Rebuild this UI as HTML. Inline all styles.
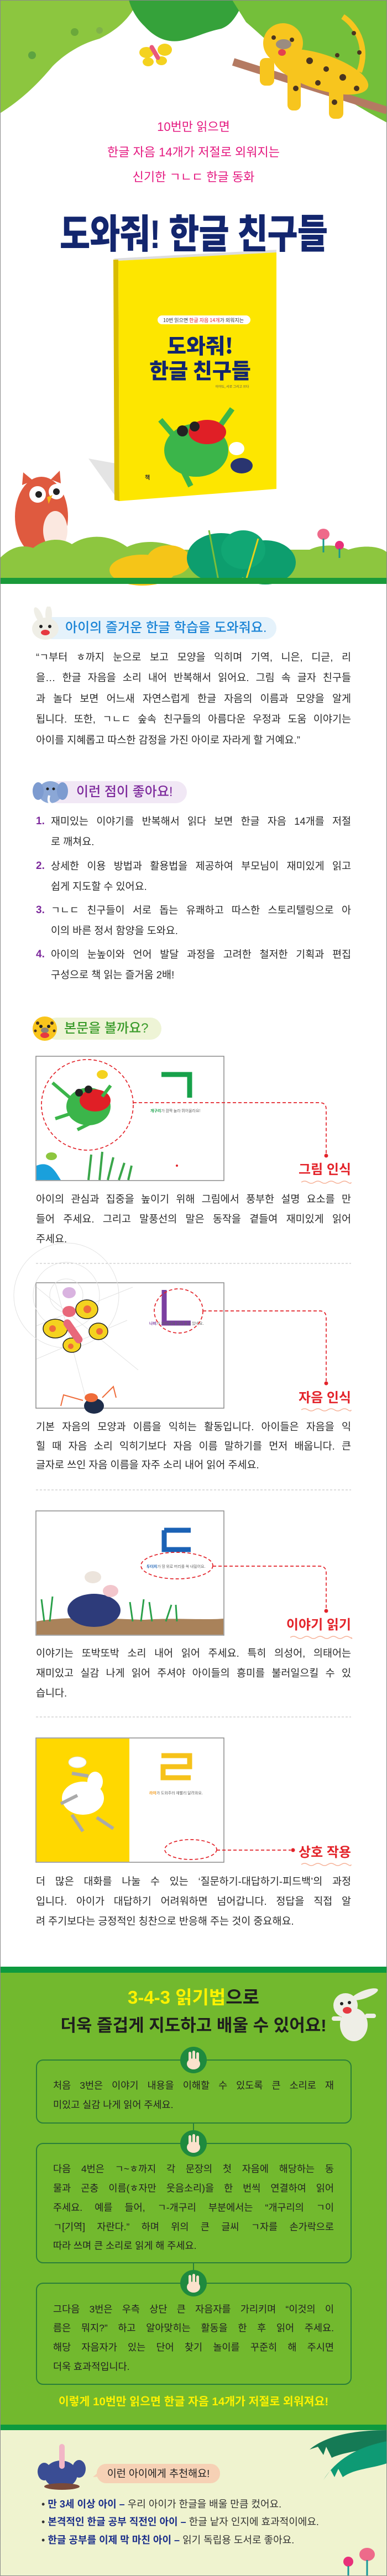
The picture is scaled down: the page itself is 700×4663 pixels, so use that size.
<!DOCTYPE html>
<html><head><meta charset="utf-8">
<style>
*{margin:0;padding:0;box-sizing:border-box}
body{width:700px;height:4663px;position:relative;background:#fff;font-family:"Liberation Sans","Noto Sans CJK KR",sans-serif;overflow:hidden}
.a{position:absolute}
.l{position:absolute;left:65px;width:570px;height:30px;line-height:30px;font-size:18.5px;color:#2a2a2a;text-align:justify;text-align-last:justify;white-space:nowrap}
.li{left:92px;width:543px}
.num{position:absolute;left:65px;height:30px;line-height:30px;font-size:19px;font-weight:700;color:#7d2a9c}
.b{position:absolute;left:96px;width:508px;height:30px;line-height:30px;font-size:17.5px;color:#222;text-align:justify;text-align-last:justify;white-space:nowrap}
.l.e,.b.e{text-align-last:left;text-align:left}
.lab{position:absolute;right:65px;font-size:24px;font-weight:700;color:#e3232a;line-height:30px;white-space:nowrap}
.pink{position:absolute;left:0;width:700px;text-align:center;font-size:22px;color:#e4177f;line-height:30px}
.bul{position:absolute;left:75px;font-size:18px;line-height:28px;color:#333;white-space:nowrap}
.bul b{color:#1c2f8a}
</style></head><body>

<!-- TOP ILLUSTRATION -->
<svg class="a" style="left:0;top:0" width="700" height="1060" viewBox="0 0 700 1060">
 <path d="M0,0 L250,0 C235,35 210,55 180,70 C150,78 120,95 95,120 C70,150 40,180 0,205 Z" fill="#8cc63f"/>
 <path d="M233,0 L442,0 C430,25 420,45 400,52 C370,58 350,70 325,74 C295,78 275,62 262,48 C248,35 238,18 233,0Z" fill="#35a23a"/>
 <path d="M420,0 L700,0 L700,222 C650,195 610,170 570,140 C520,110 480,70 445,40 Z" fill="#74bf3a"/>
 <circle cx="135" cy="58" r="7" fill="#6aa83a"/><circle cx="180" cy="55" r="6" fill="#7fb24a"/><circle cx="58" cy="100" r="7" fill="#5da341"/>
 <line x1="422" y1="112" x2="700" y2="200" stroke="#b47a62" stroke-width="14"/>
 <path d="M620,30 C650,50 665,90 650,130" stroke="#f7c51e" stroke-width="10" fill="none"/>
 <ellipse cx="580" cy="130" rx="90" ry="32" transform="rotate(18 580 130)" fill="#f7c51e"/>
 <rect x="470" y="105" width="26" height="50" rx="10" fill="#f7c51e"/>
 <rect x="520" y="125" width="24" height="75" rx="10" fill="#f7c51e"/>
 <rect x="595" y="150" width="26" height="65" rx="10" fill="#f7c51e"/>
 <circle cx="512" cy="78" r="36" fill="#f7c51e"/>
 <ellipse cx="513" cy="80" rx="14" ry="9" fill="#9a8c80"/>
 <ellipse cx="510" cy="95" rx="7" ry="6" fill="#e4404f"/>
 <g fill="#4a3520"><circle cx="495" cy="68" r="4"/><circle cx="528" cy="72" r="4"/><circle cx="560" cy="110" r="6"/><circle cx="590" cy="125" r="5"/><circle cx="620" cy="140" r="6"/><circle cx="575" cy="150" r="5"/><circle cx="645" cy="160" r="5"/><circle cx="535" cy="160" r="5"/><circle cx="605" cy="185" r="5"/><circle cx="610" cy="100" r="4"/><circle cx="640" cy="60" r="4"/><circle cx="650" cy="95" r="4"/></g>
 <ellipse cx="265" cy="95" rx="13" ry="10" fill="#f4d21f"/><ellipse cx="298" cy="90" rx="13" ry="11" fill="#f4d21f"/>
 <ellipse cx="268" cy="112" rx="10" ry="8" fill="#f4d21f"/><ellipse cx="292" cy="110" rx="10" ry="8" fill="#f4d21f"/>
 <rect x="276" y="80" width="8" height="30" rx="4" fill="#e9587a" transform="rotate(-30 280 95)"/>
 <!-- book -->
 <polygon points="160,830 215,907 215,840" fill="#e4e4e4"/>
 <polygon points="205,468 500,452 500,458 213,472" fill="#ddd"/>
 <polygon points="205,470 214,470 216,907 207,905" fill="#d9bc00"/>
 <polygon points="214,472 500,457 500,885 216,907" fill="#fde600"/>
 <rect x="285" y="571" width="168" height="16" rx="8" fill="#fff"/>
 <text x="295" y="583" font-size="9" fill="#333" font-family="Noto Sans CJK KR">10번 읽으면 <tspan fill="#e3232a">한글 자음 14개</tspan>가 외워지는</text>
 <text x="362" y="640" font-size="38" font-weight="900" fill="#13266e" text-anchor="middle" font-family="Noto Sans CJK KR">도와줘!</text>
 <text x="362" y="685" font-size="38" font-weight="900" fill="#13266e" text-anchor="middle" font-family="Noto Sans CJK KR">한글 친구들</text>
 <text x="420" y="702" font-size="6" fill="#555" text-anchor="middle" font-family="Noto Sans CJK KR">이야도, 서로 그리고 쓰다</text>
 <ellipse cx="355" cy="815" rx="58" ry="48" fill="#3bb54a"/>
 <ellipse cx="375" cy="782" rx="34" ry="22" fill="#e01f26"/>
 <circle cx="330" cy="780" r="10" fill="#222"/><circle cx="352" cy="772" r="9" fill="#222"/>
 <path d="M290,760 L320,795 M400,768 L420,740 M330,850 L345,880" stroke="#3bb54a" stroke-width="10"/>
 <ellipse cx="437" cy="843" rx="20" ry="14" fill="#2a3570"/>
 <ellipse cx="428" cy="812" rx="14" ry="12" fill="#fff"/>
 <text x="262" y="868" font-size="10" font-weight="700" fill="#333" font-family="Noto Sans CJK KR">책</text>
 <!-- owl -->
 <ellipse cx="75" cy="935" rx="48" ry="72" fill="#df5a3f"/>
 <polygon points="40,878 42,855 60,870" fill="#df5a3f"/><polygon points="110,875 108,852 92,868" fill="#df5a3f"/>
 <ellipse cx="100" cy="960" rx="22" ry="35" fill="#fbe8e0"/>
 <circle cx="68" cy="895" r="15" fill="#fff"/><circle cx="102" cy="890" r="14" fill="#fff"/>
 <circle cx="70" cy="895" r="6" fill="#222"/><circle cx="102" cy="890" r="6" fill="#222"/>
 <polygon points="85,900 95,896 88,912" fill="#f5b21a"/>
 <rect x="60" y="1005" width="50" height="45" fill="#7a6a60"/>
 <!-- hedge -->
 <path d="M0,1050 L0,1010 C20,990 40,985 60,992 C80,975 110,972 130,985 C160,965 200,968 230,990 C260,975 300,980 330,995 L560,995 C580,985 610,985 630,995 C660,985 690,990 700,1000 L700,1050Z" fill="#8dc63f"/>
 <ellipse cx="258" cy="1032" rx="60" ry="28" fill="#f5c518"/><ellipse cx="305" cy="1015" rx="40" ry="28" fill="#f5c518"/>
 <ellipse cx="400" cy="1010" rx="62" ry="45" fill="#0d9e6e"/><ellipse cx="480" cy="1018" rx="55" ry="40" fill="#0d9e6e"/><ellipse cx="440" cy="995" rx="40" ry="35" fill="#11a774"/>
 <path d="M378,960 L395,1050" stroke="#7bbf3a" stroke-width="3"/><path d="M467,975 L445,1050" stroke="#e8d21a" stroke-width="3"/>
 <ellipse cx="585" cy="967" rx="11" ry="10" fill="#ee6a8a"/><line x1="585" y1="975" x2="585" y2="1000" stroke="#1a9a8a" stroke-width="3"/>
 <ellipse cx="614" cy="987" rx="8" ry="8" fill="#e8307a"/><line x1="614" y1="993" x2="614" y2="1010" stroke="#1a9a8a" stroke-width="3"/>
 <rect x="0" y="1046" width="700" height="11" fill="#1a9a3a"/>
</svg>

<div class="pink" style="top:215px">10번만 읽으면</div>
<div class="pink" style="top:261px">한글 자음 14개가 저절로 외워지는</div>
<div class="pink" style="top:306px">신기한 ㄱㄴㄷ 한글 동화</div>
<div class="a" style="left:0;top:388px;width:700px;text-align:center;font-size:60px;font-weight:900;color:#13266e;line-height:74px;transform:scaleY(1.2);letter-spacing:-1px">도와줘! 한글 친구들</div>

<!-- heading 1 -->
<div class="a" style="left:75px;top:1117px;width:425px;height:40px;border-radius:20px;background:#e5f2fb"></div>
<svg class="a" style="left:52px;top:1098px" width="60" height="62"><ellipse cx="30" cy="40" rx="24" ry="20" fill="#efeee6"/><ellipse cx="18" cy="16" rx="6" ry="16" fill="#efeee6" transform="rotate(-25 18 16)"/><ellipse cx="36" cy="14" rx="6" ry="16" fill="#efeee6"/><circle cx="22" cy="36" r="3" fill="#222"/><circle cx="38" cy="36" r="3" fill="#222"/><ellipse cx="30" cy="47" rx="8" ry="5" fill="#e63940"/></svg>
<div class="a" style="left:118px;top:1120px;font-size:24px;line-height:34px;color:#1a84d6;font-weight:500">아이의 즐거운 한글 학습을 도와줘요.</div>
<div class="l" style="top:1175px">“ㄱ부터 ㅎ까지 눈으로 보고 모양을 익히며 기역, 니은, 디귿, 리</div>
<div class="l" style="top:1212px">을… 한글 자음을 소리 내어 반복해서 읽어요. 그림 속 글자 친구들</div>
<div class="l" style="top:1250px">과 놀다 보면 어느새 자연스럽게 한글 자음의 이름과 모양을 알게</div>
<div class="l" style="top:1287px">됩니다. 또한, ㄱㄴㄷ 숲속 친구들의 아름다운 우정과 도움 이야기는</div>
<div class="l e" style="top:1325px">아이를 지혜롭고 따스한 감정을 가진 아이로 자라게 할 거예요.”</div>

<!-- heading 2 -->
<div class="a" style="left:85px;top:1414px;width:253px;height:40px;border-radius:20px;background:#f1e8f5"></div>
<svg class="a" style="left:55px;top:1408px" width="75" height="52"><ellipse cx="36" cy="26" rx="22" ry="20" fill="#8ba7d6"/><ellipse cx="14" cy="24" rx="10" ry="16" fill="#7d9bd0"/><ellipse cx="58" cy="24" rx="10" ry="16" fill="#7d9bd0"/><circle cx="31" cy="20" r="2.5" fill="#222"/><circle cx="42" cy="20" r="2.5" fill="#222"/><path d="M34,32 Q30,46 40,48" stroke="#fff" stroke-width="4" fill="none"/></svg>
<div class="a" style="left:138px;top:1417px;font-size:24px;line-height:34px;color:#7d2a9c;font-weight:500">이런 점이 좋아요!</div>
<div class="num" style="top:1472px">1.</div>
<div class="l li" style="top:1472px">재미있는 이야기를 반복해서 읽다 보면 한글 자음 14개를 저절</div>
<div class="l li e" style="top:1509px">로 깨쳐요.</div>
<div class="num" style="top:1553px">2.</div>
<div class="l li" style="top:1553px">상세한 이용 방법과 활용법을 제공하여 부모님이 재미있게 읽고</div>
<div class="l li e" style="top:1590px">쉽게 지도할 수 있어요.</div>
<div class="num" style="top:1633px">3.</div>
<div class="l li" style="top:1633px">ㄱㄴㄷ 친구들이 서로 돕는 유쾌하고 따스한 스토리텔링으로 아</div>
<div class="l li e" style="top:1670px">이의 바른 정서 함양을 도와요.</div>
<div class="num" style="top:1713px">4.</div>
<div class="l li" style="top:1713px">아이의 눈높이와 언어 발달 과정을 고려한 철저한 기획과 편집</div>
<div class="l li e" style="top:1750px">구성으로 책 읽는 즐거움 2배!</div>

<!-- heading 3 -->
<div class="a" style="left:82px;top:1842px;width:210px;height:40px;border-radius:20px;background:#eef4d6"></div>
<svg class="a" style="left:56px;top:1838px" width="50" height="48"><circle cx="25" cy="24" r="22" fill="#f9c51c"/><g fill="#4a3520"><circle cx="12" cy="14" r="3"/><circle cx="38" cy="14" r="3"/><circle cx="8" cy="28" r="2.5"/><circle cx="42" cy="28" r="2.5"/></g><circle cx="18" cy="20" r="3" fill="#222"/><circle cx="32" cy="20" r="3" fill="#222"/><ellipse cx="25" cy="27" rx="7" ry="5" fill="#8c8478"/><ellipse cx="25" cy="36" rx="8" ry="5" fill="#e63940"/></svg>
<div class="a" style="left:116px;top:1845px;font-size:24px;line-height:34px;color:#3a9b2a;font-weight:500">본문을 볼까요?</div>

<!-- image panels & connectors -->
<svg class="a" style="left:0;top:1900px" width="700" height="1480" viewBox="0 1900 700 1480">
 <defs><style>.d{stroke:#e3232a;stroke-width:1.7;stroke-dasharray:6 4;fill:none}.w{stroke:#f6b39a;stroke-width:1.5;fill:none}.fr{fill:#fff;stroke:#8a8a8a;stroke-width:1.5}</style></defs>
 <rect class="fr" x="65" y="1912" width="340" height="225"/>
 <path d="M66,2110 C90,2100 100,2120 110,2136 L66,2136Z" fill="#1aa0dc"/>
 <ellipse cx="160" cy="2003" rx="40" ry="34" fill="#3bb54a"/>
 <ellipse cx="172" cy="1992" rx="28" ry="20" fill="#e01f26"/>
 <circle cx="143" cy="1978" r="7" fill="#222"/><circle cx="160" cy="1972" r="7" fill="#222"/>
 <path d="M95,1960 L130,1990 M200,1965 L185,1985 M100,2025 L130,2015 M140,2045 L170,2030" stroke="#3bb54a" stroke-width="6"/>
 <ellipse cx="185" cy="1945" rx="10" ry="8" fill="#f4d21f"/>
 <path d="M160,2136 L165,2090 M180,2136 L185,2085 M195,2136 L205,2095 M215,2136 L225,2105 M232,2136 L238,2110" stroke="#3aa64a" stroke-width="4"/>
 <ellipse cx="93" cy="2093" rx="10" ry="7" fill="#8dc63f"/>
 <path d="M292,1945 L343,1945 L343,1987" stroke="#17a14a" stroke-width="9" fill="none"/>
 <text x="272" y="2013" font-size="7" fill="#17a14a" font-weight="700" font-family="Noto Sans CJK KR">개구리<tspan fill="#666" font-weight="400">가 깜짝 놀라 뛰어올라요!</tspan></text>
 <circle cx="320" cy="2110" r="2" fill="#e3232a"/>
 <ellipse class="d" cx="158" cy="2000" rx="83" ry="82"/>
 <path class="d" d="M241,1996 L578,1996 Q590,1996 590,2008 L590,2088"/>
 <circle cx="590" cy="2092" r="3.5" fill="#e3232a"/>
 <path class="w" d="M545,2140 q6,-4 12,0 t12,0 t12,0 t12,0 t12,0 t12,0 t12,0 t6,0"/>
 <line x1="65" y1="2287" x2="635" y2="2287" stroke="#bbb" stroke-dasharray="4 3"/>
 <rect class="fr" x="65" y="2322" width="340" height="227"/>
 <g stroke="#e2e2e2" fill="none" stroke-width="1"><path d="M66,2330 L250,2480 M66,2400 L240,2330 M100,2323 L160,2549 M66,2460 L230,2390"/><circle cx="120" cy="2345" r="30"/><circle cx="120" cy="2345" r="60"/><circle cx="120" cy="2345" r="95"/></g>
 <ellipse cx="157" cy="2370" rx="20" ry="17" fill="#f4d21f" stroke="#222" stroke-width="1.5"/><ellipse cx="178" cy="2410" rx="17" ry="15" fill="#f4d21f" stroke="#222" stroke-width="1.5"/>
 <ellipse cx="100" cy="2405" rx="22" ry="17" fill="#f4d21f" stroke="#222" stroke-width="1.5"/><ellipse cx="130" cy="2435" rx="16" ry="13" fill="#f4d21f" stroke="#222" stroke-width="1.5"/>
 <circle cx="158" cy="2370" r="7" fill="#ef6c3a"/><circle cx="180" cy="2410" r="6" fill="#ef6c3a"/><circle cx="95" cy="2405" r="6" fill="#ef6c3a"/><circle cx="128" cy="2437" r="5" fill="#ef6c3a"/>
 <rect x="125" y="2385" width="14" height="50" rx="7" fill="#e8687a" transform="rotate(-35 132 2410)"/>
 <ellipse cx="125" cy="2374" rx="12" ry="10" fill="#e8687a"/>
 <ellipse cx="125" cy="2340" rx="12" ry="10" fill="#d9b3e0"/>
 <ellipse cx="170" cy="2545" rx="18" ry="14" fill="#1f2d4a"/><ellipse cx="165" cy="2530" rx="12" ry="8" fill="#ef6c3a"/>
 <path d="M150,2535 L115,2525 L110,2545 M185,2530 L205,2510 L210,2530" stroke="#ef6c3a" stroke-width="2" fill="none"/>
 <path d="M297,2335 L297,2395 L345,2395" stroke="#7b3fa0" stroke-width="9" fill="none"/>
 <text x="270" y="2398" font-size="7" fill="#7b3fa0" font-weight="700" font-family="Noto Sans CJK KR">나비<tspan fill="#666" font-weight="400">가 거미줄에 걸려 울고 있네요.</tspan></text>
 <ellipse class="d" cx="323" cy="2373" rx="44" ry="40"/>
 <path class="d" d="M367,2373 L578,2373 Q590,2373 590,2385 L590,2500"/>
 <circle cx="590" cy="2504" r="3.5" fill="#e3232a"/>
 <path class="w" d="M545,2552 q6,-4 12,0 t12,0 t12,0 t12,0 t12,0 t12,0 t12,0 t6,0"/>
 <line x1="65" y1="2697" x2="635" y2="2697" stroke="#bbb" stroke-dasharray="4 3"/>
 <rect class="fr" x="65" y="2735" width="340" height="225"/>
 <path d="M66,2935 C120,2925 200,2930 260,2932 C320,2928 370,2933 404,2930 L404,2959 L66,2959Z" fill="#a9825a"/>
 <ellipse cx="170" cy="2915" rx="48" ry="30" fill="#2d3b7a"/><ellipse cx="200" cy="2880" rx="14" ry="11" fill="#f2c6cc"/>
 <ellipse cx="168" cy="2855" rx="15" ry="11" fill="#ece4dc"/>
 <path d="M80,2935 L75,2895 M90,2935 L95,2890 M240,2935 L235,2900 M255,2935 L260,2895 M275,2935 L270,2900 M300,2935 L310,2905 M320,2935 L318,2905" stroke="#2aa04a" stroke-width="3"/>
 <path d="M297,2770 L345,2770 M297,2770 L297,2805 L345,2805" stroke="#1b62b5" stroke-width="9" fill="none"/>
 <text x="265" y="2838" font-size="7" fill="#1b62b5" font-weight="700" font-family="Noto Sans CJK KR">두더지<tspan fill="#666" font-weight="400">가 땅 위로 머리를 쏙 내밀어요.</tspan></text>
 <ellipse class="d" cx="320" cy="2834" rx="65" ry="24"/>
 <path class="d" d="M385,2835 L578,2835 Q590,2835 590,2847 L590,2912"/>
 <circle cx="590" cy="2916" r="3.5" fill="#e3232a"/>
 <path class="w" d="M525,2964 q6,-4 12,0 t12,0 t12,0 t12,0 t12,0 t12,0 t12,0 t12,0 t12,0 t2,0"/>
 <line x1="65" y1="3108" x2="635" y2="3108" stroke="#bbb" stroke-dasharray="4 3"/>
 <rect class="fr" x="65" y="3146" width="340" height="225"/>
 <rect x="66" y="3147" width="168" height="223" fill="#ffd800"/>
 <ellipse cx="150" cy="3255" rx="38" ry="30" fill="#fff"/><ellipse cx="172" cy="3225" rx="14" ry="18" fill="#fff"/>
 <path d="M130,3210 L160,3215 M110,3265 L140,3250 M175,3290 L205,3310 M130,3285 L150,3315" stroke="#aaa" stroke-width="6"/>
 <ellipse cx="140" cy="3190" rx="16" ry="10" fill="#fff" stroke="#ddd"/>
 <path d="M292,3178 L343,3178 L343,3198 L295,3198 L295,3218 L345,3218" stroke="#f6c21a" stroke-width="9" fill="none"/>
 <text x="270" y="3248" font-size="7" fill="#f39a1a" font-weight="700" font-family="Noto Sans CJK KR">라아<tspan fill="#666" font-weight="400">가 도와주러 재빨리 달려와요.</tspan></text>
 <ellipse class="d" cx="345" cy="3348" rx="47" ry="18"/>
 <path class="d" d="M392,3349 L526,3349"/>
 <circle cx="530" cy="3349" r="3.5" fill="#e3232a"/>
 <path class="w" d="M545,3375 q6,-4 12,0 t12,0 t12,0 t12,0 t12,0 t12,0 t12,0 t6,0"/>
</svg>

<div class="lab" style="top:2103px">그림 인식</div>
<div class="lab" style="top:2516px">자음 인식</div>
<div class="lab" style="top:2927px">이야기 읽기</div>
<div class="lab" style="top:3339px">상호 작용</div>

<div class="l" style="top:2156px">아이의 관심과 집중을 높이기 위해 그림에서 풍부한 설명 요소를 만</div>
<div class="l" style="top:2192px">들어 주세요. 그리고 말풍선의 말은 동작을 곁들여 재미있게 읽어</div>
<div class="l e" style="top:2228px">주세요.</div>
<div class="l" style="top:2568px">기본 자음의 모양과 이름을 익히는 활동입니다. 아이들은 자음을 익</div>
<div class="l" style="top:2603px">힐 때 자음 소리 익히기보다 자음 이름 말하기를 먼저 배웁니다. 큰</div>
<div class="l e" style="top:2637px">글자로 쓰인 자음 이름을 자주 소리 내어 읽어 주세요.</div>
<div class="l" style="top:2978px">이야기는 또박또박 소리 내어 읽어 주세요. 특히 의성어, 의태어는</div>
<div class="l" style="top:3014px">재미있고 실감 나게 읽어 주셔야 아이들의 흥미를 불러일으킬 수 있</div>
<div class="l e" style="top:3050px">습니다.</div>
<div class="l" style="top:3391px">더 많은 대화를 나눌 수 있는 ‘질문하기-대답하기-피드백’의 과정</div>
<div class="l" style="top:3427px">입니다. 아이가 대답하기 어려워하면 넘어갑니다. 정답을 직접 알</div>
<div class="l e" style="top:3463px">려 주기보다는 긍정적인 칭찬으로 반응해 주는 것이 중요해요.</div>

<!-- GREEN SECTION -->
<div class="a" style="left:0;top:3560px;width:700px;height:11px;background:#0d9a3e"></div>
<div class="a" style="left:0;top:3571px;width:700px;height:818px;background:#72b92e"></div>
<div class="a" style="left:0;top:3594px;width:700px;text-align:center;font-size:33px;font-weight:700;line-height:44px;color:#1e1e1e"><span style="color:#fff200">3-4-3 읽기법</span>으로</div>
<div class="a" style="left:0;top:3645px;width:700px;text-align:center;font-size:31px;font-weight:700;line-height:44px;color:#1e1e1e">더욱 즐겁게 지도하고 배울 수 있어요!</div>
<svg class="a" style="left:590px;top:3595px" width="100" height="110"><ellipse cx="50" cy="70" rx="25" ry="30" fill="#eeeee6"/><circle cx="35" cy="35" r="22" fill="#eeeee6"/><ellipse cx="70" cy="15" rx="25" ry="7" fill="#eeeee6" transform="rotate(-20 70 15)"/><circle cx="28" cy="32" r="3" fill="#222"/><circle cx="42" cy="30" r="3" fill="#222"/><ellipse cx="38" cy="44" rx="8" ry="6" fill="#e63940"/><rect x="10" y="55" width="18" height="8" rx="4" fill="#eeeee6"/><rect x="70" y="50" width="20" height="8" rx="4" fill="#eeeee6"/></svg>

<svg class="a" style="left:0;top:3700px" width="700" height="640" viewBox="0 3700 700 640">
 <line x1="350" y1="3843" x2="350" y2="3880" stroke="#2a7f3a" stroke-width="2"/>
 <line x1="350" y1="4096" x2="350" y2="4133" stroke="#2a7f3a" stroke-width="2"/>
 <rect x="66" y="3729" width="569" height="114" rx="12" fill="none" stroke="#2a7f3a" stroke-width="2"/>
 <rect x="66" y="3880" width="569" height="216" rx="12" fill="none" stroke="#2a7f3a" stroke-width="2"/>
 <rect x="66" y="4133" width="569" height="183" rx="12" fill="none" stroke="#2a7f3a" stroke-width="2"/>
 <g id="h"><circle cx="350" cy="3729" r="24" fill="#1f8a3e"/><ellipse cx="350" cy="3736" rx="12" ry="10" fill="#fbe2cc"/><rect x="341" y="3714" width="5" height="18" rx="2.5" fill="#fbe2cc"/><rect x="348" y="3712" width="5" height="18" rx="2.5" fill="#fbe2cc"/><rect x="355" y="3715" width="5" height="17" rx="2.5" fill="#fbe2cc"/></g>
 <use href="#h" y="151"/><use href="#h" y="404"/>
</svg>
<div class="b" style="top:3760px">처음 3번은 이야기 내용을 이해할 수 있도록 큰 소리로 재</div>
<div class="b e" style="top:3795px">미있고 실감 나게 읽어 주세요.</div>
<div class="b" style="top:3911px">다음 4번은 ㄱ~ㅎ까지 각 문장의 첫 자음에 해당하는 동</div>
<div class="b" style="top:3946px">물과 곤충 이름(ㅎ자만 웃음소리)을 한 번씩 연결하여 읽어</div>
<div class="b" style="top:3981px">주세요. 예를 들어, ㄱ-개구리 부분에서는 “개구리의 ㄱ이</div>
<div class="b" style="top:4016px">ㄱ[기역] 자란다.” 하며 위의 큰 글씨 ㄱ자를 손가락으로</div>
<div class="b e" style="top:4050px">따라 쓰며 큰 소리로 읽게 해 주세요.</div>
<div class="b" style="top:4165px">그다음 3번은 우측 상단 큰 자음자를 가리키며 “이것의 이</div>
<div class="b" style="top:4199px">름은 뭐지?” 하고 알아맞히는 활동을 한 후 읽어 주세요.</div>
<div class="b" style="top:4234px">해당 자음자가 있는 단어 찾기 놀이를 꾸준히 해 주시면</div>
<div class="b e" style="top:4269px">더욱 효과적입니다.</div>
<div class="a" style="left:0;top:4333px;width:700px;text-align:center;font-size:20.5px;font-weight:700;color:#fff200;line-height:30px">이렇게 10번만 읽으면 한글 자음 14개가 저절로 외워져요!</div>

<!-- BOTTOM -->
<div class="a" style="left:0;top:4389px;width:700px;height:10px;background:#0d9a3e"></div>
<div class="a" style="left:0;top:4399px;width:700px;height:264px;background:#eff3cf"></div>
<svg class="a" style="left:0;top:4399px" width="700" height="264">
 <path d="M560,35 C590,10 640,0 700,0 L700,30 C660,35 620,40 600,50 L590,30 L585,45 L575,30Z" fill="#157a55"/>
 <path d="M585,90 C610,50 650,30 700,20 L700,60 C670,70 640,70 620,85 L612,70 L605,85 L598,72Z" fill="#0e9a74"/>
 <ellipse cx="110" cy="80" rx="30" ry="25" fill="#3a4d94"/><rect x="107" y="25" width="10" height="45" rx="5" fill="#f2b6c6"/>
 <ellipse cx="80" cy="75" rx="12" ry="16" fill="#3a4d94"/><ellipse cx="143" cy="70" rx="12" ry="16" fill="#3a4d94"/>
 <ellipse cx="112" cy="102" rx="32" ry="6" fill="#7a4a3a"/>
 <path d="M178,76 L168,85 L180,84Z" fill="#f6d1b5"/>
 <ellipse cx="664" cy="225" rx="14" ry="12" fill="#ee6a8a"/><line x1="664" y1="235" x2="664" y2="264" stroke="#17979a" stroke-width="3"/>
 <ellipse cx="630" cy="238" rx="9" ry="9" fill="#e8307a"/><line x1="630" y1="246" x2="630" y2="264" stroke="#17979a" stroke-width="3"/>
</svg>
<div class="a" style="left:175px;top:4460px;width:223px;height:35px;border-radius:17px;background:#f6d1b5;text-align:center;line-height:35px;font-size:18.5px;color:#222">이런 아이에게 추천해요!</div>
<div class="bul" style="top:4519px">• <b>만 3세 이상 아이 –</b> 우리 아이가 한글을 배울 만큼 컸어요.</div>
<div class="bul" style="top:4551px">• <b>본격적인 한글 공부 직전인 아이 –</b> 한글 낱자 인지에 효과적이에요.</div>
<div class="bul" style="top:4584px">• <b>한글 공부를 이제 막 마친 아이 –</b> 읽기 독립용 도서로 좋아요.</div>

<div class="a" style="left:0;top:0;width:700px;height:4663px;border:1px solid #8a8a8a;pointer-events:none"></div>
</body></html>
